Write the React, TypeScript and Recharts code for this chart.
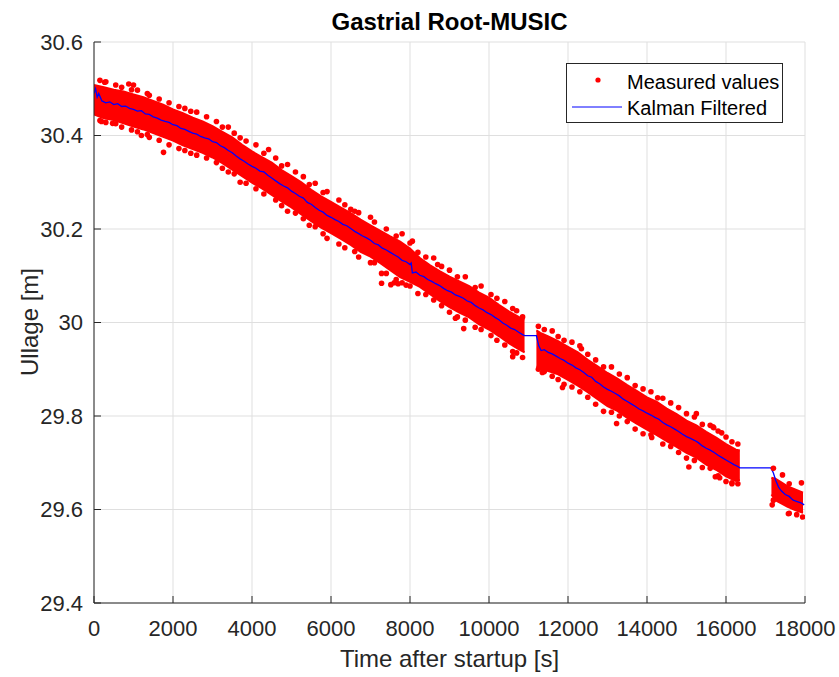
import React from "react";
import {
  ComposedChart,
  Area,
  Line,
  Scatter,
  XAxis,
  YAxis,
  CartesianGrid,
  Legend,
} from "recharts";

const FONT = '"Liberation Sans", Arial, Helvetica, sans-serif';
const AXIS_COLOR = "#262626";
const GRID_COLOR = "#dfdfdf";
const RED = "#ff0000";
const BLUE = "#0000ff";

const title = "Gastrial Root-MUSIC";
const xLabel = "Time after startup [s]";
const yLabel = "Ullage [m]";
const legendLabels = ["Measured values", "Kalman Filtered"];

const xTicks = [0, 2000, 4000, 6000, 8000, 10000, 12000, 14000, 16000, 18000];
const yTicks = [29.4, 29.6, 29.8, 30, 30.2, 30.4, 30.6];

// dense cloud of measured values: time grid with lower / upper edge (null = no data)
const bandTime = [
  0, 250, 500, 750, 1000, 1250, 1500, 1750, 2000, 2250, 2500, 2750, 3000,
  3250, 3500, 3750, 4000, 4250, 4500, 4750, 5000, 5250, 5500, 5750, 6000, 6250,
  6500, 6750, 7000, 7250, 7500, 7750, 8000, 8250, 8500, 8750, 9000, 9250,
  9500, 9750, 10000, 10250, 10500, 10750, 10900, 11050, 11200, 11300, 11500,
  11750, 12000, 12250, 12500, 12750, 13000, 13250, 13500, 13750, 14000, 14250,
  14500, 14750, 15000, 15250, 15500, 15750, 16000, 16250, 16350, 16750, 17150,
  17250, 17400, 17550, 17750, 17950,
];
const bandLow: (number | null)[] = [
  30.445, 30.437, 30.433, 30.426, 30.419, 30.413, 30.405, 30.397,
  30.389, 30.379, 30.371, 30.363, 30.353, 30.341, 30.327, 30.313, 30.299, 30.287,
  30.273, 30.259, 30.246, 30.231, 30.217, 30.203, 30.191, 30.179, 30.166, 30.151,
  30.141, 30.127, 30.112, 30.097, 30.087, 30.076, 30.061, 30.046, 30.033,
  30.021, 30.011, 29.996, 29.985, 29.971, 29.956, 29.943, 29.936, null, 29.906,
  29.901, 29.896, 29.889, 29.877, 29.865, 29.851, 29.836, 29.821, 29.811, 29.796,
  29.783, 29.771, 29.759, 29.746, 29.734, 29.721, 29.711, 29.696, 29.685, 29.671,
  29.661, 29.663, null, 29.632, 29.62, 29.613, 29.606, 29.599, 29.593,
];
const bandHigh: (number | null)[] = [
  30.508, 30.503, 30.498, 30.494, 30.488, 30.482, 30.474, 30.466, 30.456,
  30.448, 30.438, 30.43, 30.42, 30.408, 30.396, 30.38, 30.366, 30.354, 30.342,
  30.326, 30.313, 30.3, 30.284, 30.27, 30.258, 30.246, 30.234, 30.22, 30.208,
  30.196, 30.184, 30.173, 30.158, 30.138, 30.123, 30.11, 30.098, 30.088,
  30.078, 30.064, 30.053, 30.038, 30.024, 30.012, 30.006, null, 29.983, 29.978,
  29.97, 29.96, 29.948, 29.936, 29.92, 29.906, 29.892, 29.88, 29.866,
  29.853, 29.84, 29.83, 29.816, 29.804, 29.79, 29.78, 29.766, 29.754,
  29.74, 29.728, 29.726, null, 29.668, 29.666, 29.658, 29.65, 29.643, 29.636,
];

// Kalman filtered estimate
const kalmanTime = [
  0, 40, 80, 120, 200, 300, 400, 500, 600, 700, 800, 900, 1000, 1100, 1200,
  1300, 1400, 1500, 1600, 1700, 1800, 1900, 2000, 2100, 2200, 2300, 2400, 2500,
  2600, 2700, 2800, 2900, 3000, 3100, 3200, 3300, 3400, 3500, 3600, 3700, 3800,
  3900, 4000, 4100, 4200, 4300, 4400, 4500, 4600, 4700, 4800, 4900, 5000, 5100,
  5200, 5300, 5400, 5500, 5600, 5700, 5800, 5900, 6000, 6100, 6200, 6300, 6400,
  6500, 6600, 6700, 6800, 6900, 7000, 7100, 7200, 7300, 7400, 7500, 7600, 7700,
  7800, 7900, 8000, 8030, 8060, 8150, 8250, 8350, 8450, 8550, 8650, 8750, 8850,
  8950, 9050, 9150, 9250, 9350, 9450, 9550, 9650, 9750, 9850, 9950, 10050,
  10150, 10250, 10350, 10450, 10550, 10650, 10750, 10850, 10900, 11200, 11260,
  11320, 11400, 11500, 11600, 11700, 11800, 11900, 12000, 12100, 12200, 12300,
  12400, 12500, 12600, 12700, 12800, 12900, 13000, 13100, 13200, 13300, 13400,
  13500, 13600, 13700, 13800, 13900, 14000, 14100, 14200, 14300, 14400, 14500,
  14600, 14700, 14800, 14900, 15000, 15100, 15200, 15300, 15400, 15500, 15600,
  15700, 15800, 15900, 16000, 16100, 16200, 16300, 16350, 17140, 17200, 17260,
  17330, 17400, 17500, 17600, 17700, 17800, 17900, 17980,
];
const kalmanValue = [
  30.49, 30.5, 30.482, 30.49, 30.474, 30.47, 30.472, 30.466, 30.468, 30.462,
  30.463, 30.458, 30.456, 30.452, 30.453, 30.446, 30.445, 30.44, 30.437,
  30.433, 30.43, 30.428, 30.423, 30.421, 30.415, 30.413, 30.409, 30.405,
  30.403, 30.398, 30.395, 30.393, 30.387, 30.385, 30.378, 30.374, 30.368,
  30.363, 30.356, 30.35, 30.345, 30.339, 30.334, 30.33, 30.324, 30.322, 30.315,
  30.309, 30.303, 30.297, 30.292, 30.288, 30.281, 30.276, 30.27, 30.266,
  30.257, 30.253, 30.246, 30.24, 30.236, 30.229, 30.225, 30.22, 30.216, 30.21,
  30.207, 30.201, 30.195, 30.19, 30.185, 30.181, 30.176, 30.169, 30.166,
  30.159, 30.155, 30.15, 30.145, 30.14, 30.133, 30.13, 30.124, 30.127, 30.106,
  30.108, 30.101, 30.098, 30.092, 30.088, 30.083, 30.079, 30.073, 30.068,
  30.065, 30.059, 30.056, 30.052, 30.046, 30.043, 30.036, 30.031, 30.027,
  30.021, 30.017, 30.011, 30.006, 29.999, 29.994, 29.988, 29.985, 29.979,
  29.974, 29.972, 29.972, 29.95, 29.94, 29.942, 29.936, 29.933, 29.928, 29.923,
  29.919, 29.913, 29.909, 29.903, 29.899, 29.893, 29.886, 29.883, 29.874,
  29.869, 29.862, 29.857, 29.853, 29.848, 29.843, 29.836, 29.831, 29.826,
  29.821, 29.815, 29.811, 29.806, 29.802, 29.797, 29.793, 29.786, 29.781,
  29.777, 29.772, 29.767, 29.761, 29.756, 29.752, 29.748, 29.743, 29.736,
  29.731, 29.727, 29.722, 29.716, 29.711, 29.706, 29.701, 29.696, 29.692,
  29.689, 29.689, 29.678, 29.662, 29.648, 29.64, 29.632, 29.628, 29.62, 29.617,
  29.614, 29.61,
];

// individual measured values around the dense cloud
const pointTime = [
  270, 880, 1000, 470, 190, 1760, 4420, 1200, 6500, 7280, 7280, 7515, 7600,
  7700, 7900, 8060, 8700, 9360, 9150, 10600, 11350, 11860, 12340, 13230, 14270,
  15250, 15060, 15670, 14120, 16150, 15840, 15690, 15890, 15730, 17430, 17910,
  17170, 17580, 17790, 17940,
  300, 700, 1100, 1400, 1900, 2300, 2600, 3100, 3400, 3700, 4100, 4600, 4900,
  5300, 5600, 5900, 6200, 6700, 7000, 7400, 7800, 8200, 8600, 9000, 9400, 9800,
  10200, 10600, 10850, 11250, 11600, 11900, 12300, 12700, 13100, 13500, 13900,
  14400, 14800, 15200, 15600, 16000, 16300, 17200, 17600,
  300, 700, 1100, 1400, 1900, 2300, 2600, 3100, 3400, 3700, 4100, 4600, 4900,
  5300, 5600, 5900, 6200, 6700, 7000, 7400, 7800, 8200, 8600, 9000, 9400, 9800,
  10200, 10600, 10850, 11250, 11600, 11900, 12300, 12700, 13100, 13500, 13900,
  14400, 14800, 15200, 15600, 16000, 16300, 17200, 17600,
  150, 550, 950, 1350, 1650, 2150, 2450, 2850, 3250, 3550, 3850, 4300, 4750,
  5100, 5450, 5800, 6350, 6600, 7100, 7650, 8000, 8400, 8800, 9200, 9650, 10050,
  10400, 10700, 11400, 11750, 12100, 12500, 12900, 13300, 13700, 14100, 14600,
  15000, 15400, 15800, 16150,
  150, 550, 950, 1350, 1650, 2150, 2450, 2850, 3250, 3550, 3850, 4300, 4750,
  5100, 5450, 5800, 6350, 6600, 7100, 7650, 8000, 8400, 8800, 9200, 9650, 10050,
  10400, 10700, 11400, 11750, 12100, 12500, 12900, 13300, 13700, 14100, 14600,
  15000, 15400, 15800, 16150,
];
const pointValue = [
  30.514, 30.51, 30.508, 30.426, 30.43, 30.364, 30.37, 30.4, 30.242, 30.105,
  30.084, 30.081, 30.085, 30.083, 30.08, 30.174, 30.124, 29.987, 30.009, 29.927,
  29.893, 29.861, 29.944, 29.784, 29.839, 29.805, 29.691, 29.777, 29.754,
  29.657, 29.668, 29.775, 29.764, 29.67, 29.674, 29.657, 29.61, 29.591, 29.589,
  29.584,
  30.515, 30.503, 30.497, 30.486, 30.47, 30.458, 30.45, 30.43, 30.418, 30.395,
  30.38, 30.352, 30.338, 30.312, 30.298, 30.28, 30.262, 30.235, 30.225, 30.2,
  30.19, 30.15, 30.138, 30.112, 30.098, 30.078, 30.052, 30.03, 30.012, 29.992,
  29.982, 29.962, 29.95, 29.92, 29.905, 29.882, 29.858, 29.838, 29.818, 29.798,
  29.78, 29.755, 29.74, 29.688, 29.655,
  30.428, 30.418, 30.408, 30.396, 30.38, 30.368, 30.358, 30.342, 30.322, 30.3,
  30.286, 30.262, 30.238, 30.222, 30.205, 30.18, 30.168, 30.14, 30.128, 30.105,
  30.085, 30.062, 30.048, 30.022, 30.005, 29.985, 29.962, 29.938, 29.925, 29.9,
  29.885, 29.868, 29.852, 29.825, 29.808, 29.788, 29.762, 29.74, 29.722, 29.705,
  29.688, 29.66, 29.655, 29.62, 29.592,
  30.518, 30.508, 30.498, 30.49, 30.478, 30.462, 30.452, 30.44, 30.418, 30.405,
  30.388, 30.362, 30.335, 30.322, 30.295, 30.278, 30.252, 30.238, 30.215,
  30.185, 30.17, 30.14, 30.12, 30.098, 30.075, 30.06, 30.045, 30.025, 29.985,
  29.97, 29.958, 29.932, 29.905, 29.89, 29.865, 29.852, 29.828, 29.805, 29.782,
  29.768, 29.745,
  30.432, 30.425, 30.412, 30.402, 30.39, 30.372, 30.362, 30.352, 30.33, 30.318,
  30.298, 30.275, 30.25, 30.234, 30.208, 30.19, 30.16, 30.152, 30.128, 30.092,
  30.078, 30.06, 30.036, 30.012, 29.99, 29.972, 29.952, 29.935, 29.895, 29.878,
  29.862, 29.84, 29.81, 29.8, 29.772, 29.76, 29.735, 29.71, 29.69, 29.672,
  29.655,
];

const bandRows = bandTime.map((t, i) => ({
  t,
  band:
    bandLow[i] == null || bandHigh[i] == null
      ? null
      : [bandLow[i] as number, bandHigh[i] as number],
}));
const kalmanRows = kalmanTime.map((t, i) => ({ t, kalman: kalmanValue[i] }));
const points = pointTime.map((t, i) => ({ t, v: pointValue[i] }));

const XTick = (props: any) => {
  const { x, y, payload } = props;
  return (
    <g>
      <line x1={x} x2={x} y1={y} y2={y - 7} stroke={AXIS_COLOR} strokeWidth={1} />
      <text
        x={x}
        y={y + 25}
        textAnchor="middle"
        dominantBaseline="central"
        fill={AXIS_COLOR}
        fontSize={22}
        fontFamily={FONT}
      >
        {String(payload.value)}
      </text>
    </g>
  );
};

const YTick = (props: any) => {
  const { x, y, payload } = props;
  return (
    <g>
      <line x1={x} x2={x + 7} y1={y} y2={y} stroke={AXIS_COLOR} strokeWidth={1} />
      <text
        x={x - 11}
        y={y}
        textAnchor="end"
        dominantBaseline="central"
        fill={AXIS_COLOR}
        fontSize={22}
        fontFamily={FONT}
      >
        {String(Number(payload.value.toFixed(1)))}
      </text>
    </g>
  );
};

const LegendBox = () => (
  <div
    style={{
      width: 217,
      height: 60,
      boxSizing: "border-box",
      border: `1px solid ${AXIS_COLOR}`,
      background: "#fff",
      position: "relative",
      fontFamily: FONT,
      fontSize: 20,
      color: "#000",
      whiteSpace: "nowrap",
    }}
  >
    <svg width={215} height={58} style={{ position: "absolute", left: 0, top: 0 }}>
      <circle cx={31} cy={16} r={2.6} fill={RED} />
      <line x1={5} x2={55} y1={43} y2={43} stroke={BLUE} strokeWidth={1} />
    </svg>
    <div style={{ position: "absolute", left: 60, top: 6, lineHeight: "24px" }}>
      {legendLabels[0]}
    </div>
    <div style={{ position: "absolute", left: 60, top: 32, lineHeight: "24px" }}>
      {legendLabels[1]}
    </div>
  </div>
);

const Dot = (props: any) => {
  const { cx, cy } = props;
  if (cx == null || cy == null) return <g />;
  return <circle cx={cx} cy={cy} r={2.8} fill={RED} />;
};

const W = 839;
const H = 677;

export default function App() {
  return (
    <div
      style={{
        position: "relative",
        width: W,
        height: H,
        fontFamily: FONT,
        background: "#fff",
      }}
    >
      <style>{`html, body { margin: 0; padding: 0; overflow: hidden; }`}</style>
      <ComposedChart
        width={W}
        height={H}
        data={bandRows}
        margin={{ top: 42, right: 34, bottom: 0, left: 0 }}
      >
        <CartesianGrid stroke={GRID_COLOR} strokeWidth={1} />
        <XAxis
          dataKey="t"
          type="number"
          domain={[0, 18000]}
          ticks={xTicks}
          interval={0}
          allowDataOverflow
          height={74}
          tickSize={0}
          tickMargin={0}
          tickLine={false}
          axisLine={{ stroke: AXIS_COLOR, strokeWidth: 1 }}
          tick={<XTick />}
        />
        <YAxis
          type="number"
          domain={[29.4, 30.6]}
          ticks={yTicks}
          interval={0}
          allowDataOverflow
          width={94}
          tickSize={0}
          tickMargin={0}
          tickLine={false}
          axisLine={{ stroke: AXIS_COLOR, strokeWidth: 1 }}
          tick={<YTick />}
        />
        <Area
          dataKey="band"
          type="linear"
          fill={RED}
          fillOpacity={1}
          stroke={RED}
          strokeWidth={2}
          isAnimationActive={false}
          legendType="none"
        />
        <Scatter
          data={points}
          dataKey="v"
          fill={RED}
          shape={<Dot />}
          isAnimationActive={false}
        />
        <Line
          data={kalmanRows}
          dataKey="kalman"
          type="linear"
          stroke={BLUE}
          strokeWidth={1.3}
          dot={false}
          activeDot={false}
          isAnimationActive={false}
        />
        <Legend
          layout="vertical"
          align="center"
          verticalAlign="middle"
          wrapperStyle={{ top: 63, left: 566, width: 217, height: 60 }}
          content={() => <LegendBox />}
        />
      </ComposedChart>
      <div
        style={{
          position: "absolute",
          left: 94,
          width: 711,
          top: 10,
          textAlign: "center",
          fontWeight: "bold",
          fontSize: 24,
          lineHeight: "24px",
          color: "#000",
        }}
      >
        {title}
      </div>
      <div
        style={{
          position: "absolute",
          left: 94,
          width: 711,
          top: 647,
          textAlign: "center",
          fontSize: 24,
          lineHeight: "24px",
          color: AXIS_COLOR,
        }}
      >
        {xLabel}
      </div>
      <div
        style={{
          position: "absolute",
          left: 30 - 100,
          top: 322 - 12,
          width: 200,
          height: 24,
          textAlign: "center",
          fontSize: 24,
          lineHeight: "24px",
          color: AXIS_COLOR,
          transform: "rotate(-90deg)",
          transformOrigin: "100px 12px",
        }}
      >
        {yLabel}
      </div>
    </div>
  );
}
